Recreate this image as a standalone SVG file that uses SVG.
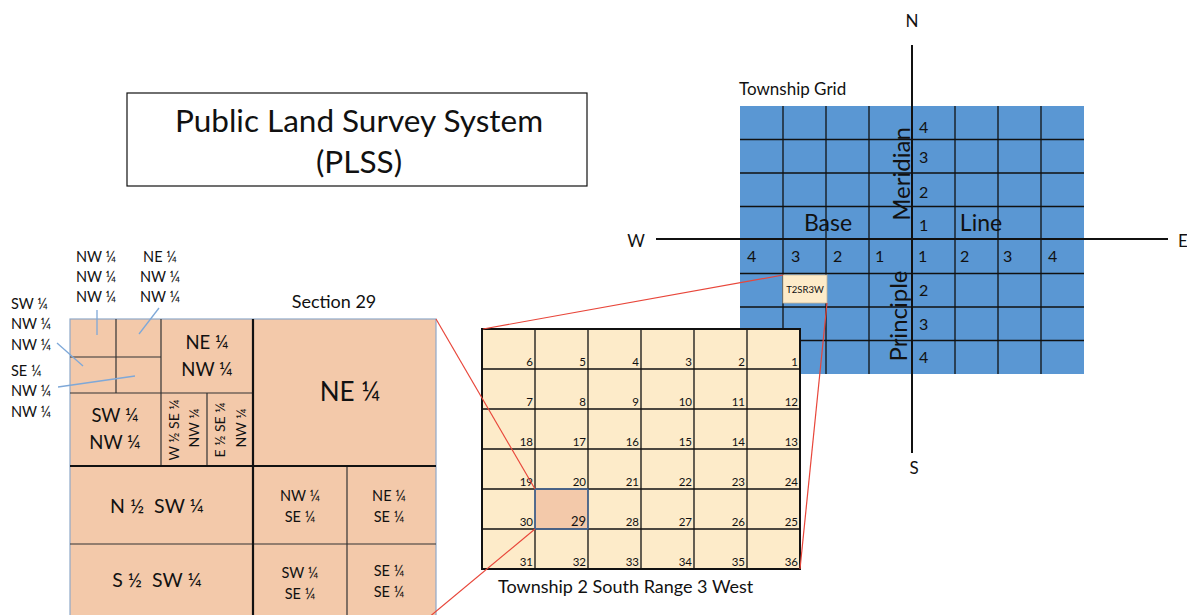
<svg xmlns="http://www.w3.org/2000/svg" width="1187" height="615" viewBox="0 0 1187 615">
<style>
text{font-family:Lato,"Open Sans","Liberation Sans",sans-serif;fill:#111;white-space:pre}
.sec{fill:#F3C9AA}
.thick{stroke:#111;stroke-width:2.2;fill:none}
.thin{stroke:#333;stroke-width:1.2;fill:none}
.m{text-anchor:middle}
.num{font-size:11.5px;text-anchor:end}
.bl{stroke:#111;stroke-width:1.3}
.bn{font-size:16px}
.red{stroke:#E8463A;stroke-width:1.2;fill:none}
.lead{stroke:#7EA8D8;stroke-width:1.3;fill:none}
</style>
<rect width="1187" height="615" fill="#fff"/>

<g id="title">
<rect x="127" y="93" width="460" height="93" fill="#fff" stroke="#111" stroke-width="1.2"/>
<text x="359" y="132" class="m" font-size="31.5">Public Land Survey System</text>
<text x="359" y="173" class="m" font-size="31.5">(PLSS)</text>
</g>

<g id="section29">
<text x="334" y="308" class="m" font-size="18">Section 29</text>
<rect x="70" y="319" width="366" height="310" class="sec" stroke="#8FA9C8" stroke-width="1.2"/>
<line x1="70" y1="357" x2="161" y2="357" class="thin"/>
<line x1="116" y1="319" x2="116" y2="393" class="thin"/>
<line x1="70" y1="393" x2="253" y2="393" class="thin"/>
<line x1="161" y1="319" x2="161" y2="466" class="thin" stroke-width="1.6"/>
<line x1="207" y1="393" x2="207" y2="466" class="thin"/>
<line x1="70" y1="544" x2="436" y2="544" class="thin"/>
<line x1="347" y1="466" x2="347" y2="615" class="thin"/>
<line x1="253" y1="319" x2="253" y2="615" class="thick"/>
<line x1="70" y1="466" x2="436" y2="466" class="thick"/>
<text x="350" y="401" class="m" font-size="26">NE ¼</text>
<text x="207" y="349" class="m" font-size="18.5">NE ¼</text>
<text x="207" y="376" class="m" font-size="18.5">NW ¼</text>
<text x="115" y="422" class="m" font-size="18.5">SW ¼</text>
<text x="115" y="449" class="m" font-size="18.5">NW ¼</text>
<text transform="translate(173,430) rotate(-90)" class="m" dominant-baseline="central" font-size="14">W ½ SE ¼</text>
<text transform="translate(193,428) rotate(-90)" class="m" dominant-baseline="central" font-size="14">NW ¼</text>
<text transform="translate(219,430) rotate(-90)" class="m" dominant-baseline="central" font-size="14">E ½ SE ¼</text>
<text transform="translate(240,428) rotate(-90)" class="m" dominant-baseline="central" font-size="14">NW ¼</text>
<text x="157" y="513" class="m" font-size="19.5">N ½  SW ¼</text>
<text x="157" y="587" class="m" font-size="19.5">S ½  SW ¼</text>
<text x="300" y="501" class="m" font-size="14.5">NW ¼</text>
<text x="300" y="522" class="m" font-size="14.5">SE ¼</text>
<text x="389" y="501" class="m" font-size="14.5">NE ¼</text>
<text x="389" y="522" class="m" font-size="14.5">SE ¼</text>
<text x="300" y="578" class="m" font-size="14.5">SW ¼</text>
<text x="300" y="599" class="m" font-size="14.5">SE ¼</text>
<text x="389" y="576" class="m" font-size="14.5">SE ¼</text>
<text x="389" y="597" class="m" font-size="14.5">SE ¼</text>
</g>

<g id="labels-nw">
<text x="96" y="262" class="m" font-size="14.5">NW ¼</text>
<text x="96" y="282" class="m" font-size="14.5">NW ¼</text>
<text x="96" y="302" class="m" font-size="14.5">NW ¼</text>
<text x="160" y="262" class="m" font-size="14.5">NE ¼</text>
<text x="160" y="282" class="m" font-size="14.5">NW ¼</text>
<text x="160" y="302" class="m" font-size="14.5">NW ¼</text>
<text x="11" y="309" font-size="14.5">SW ¼</text>
<text x="11" y="329" font-size="14.5">NW ¼</text>
<text x="11" y="350" font-size="14.5">NW ¼</text>
<text x="11" y="376" font-size="14.5">SE ¼</text>
<text x="11" y="396" font-size="14.5">NW ¼</text>
<text x="11" y="417" font-size="14.5">NW ¼</text>
</g>

<g id="township-grid">
<text x="739" y="95" font-size="17">Township Grid</text>
<rect x="740" y="106" width="344" height="268" fill="#5A97D3"/>
<g class="bl">
<line x1="783" y1="106" x2="783" y2="374"/><line x1="826" y1="106" x2="826" y2="374"/><line x1="869" y1="106" x2="869" y2="374"/><line x1="955" y1="106" x2="955" y2="374"/><line x1="998" y1="106" x2="998" y2="374"/><line x1="1041" y1="106" x2="1041" y2="374"/>
<line x1="740" y1="139.5" x2="1084" y2="139.5"/><line x1="740" y1="173" x2="1084" y2="173"/><line x1="740" y1="206.5" x2="1084" y2="206.5"/><line x1="740" y1="273.5" x2="1084" y2="273.5"/><line x1="740" y1="307" x2="1084" y2="307"/><line x1="740" y1="340.5" x2="1084" y2="340.5"/>
</g>
<g id="t2sr3w">
<rect x="783" y="275" width="44" height="28" fill="#FDEBC9" stroke="#C9B79A" stroke-width="0.8"/>
<text x="805" y="293" class="m" font-size="9.5">T2SR3W</text>
</g>
<text transform="translate(900,174) rotate(-90)" class="m" dominant-baseline="central" font-size="24">Meridian</text>
<text transform="translate(897,316) rotate(-90)" class="m" dominant-baseline="central" font-size="24">Principle</text>
<text x="828" y="231" class="m" font-size="23">Base</text>
<text x="981" y="231" class="m" font-size="23">Line</text>
<g class="bn">
<text x="747" y="262">4</text><text x="791" y="262">3</text><text x="833" y="262">2</text><text x="875" y="262">1</text>
<text x="918" y="262">1</text><text x="960" y="262">2</text><text x="1003" y="262">3</text><text x="1048" y="262">4</text>
<text x="919" y="133">4</text><text x="919" y="163">3</text><text x="919" y="198">2</text><text x="919" y="231">1</text>
<text x="919" y="296">2</text><text x="919" y="330">3</text><text x="919" y="363">4</text>
</g>
<line x1="912" y1="45" x2="912" y2="453" stroke="#111" stroke-width="2"/>
<line x1="656" y1="239" x2="1168" y2="239" stroke="#111" stroke-width="2"/>
<text x="912" y="27" class="m" font-size="17">N</text>
<text x="636" y="247" class="m" font-size="17">W</text>
<text x="1178" y="247" font-size="17">E</text>
<text x="914" y="474" class="m" font-size="17">S</text>
</g>

<g id="township">
<rect x="482" y="329" width="318" height="240" fill="#FDEBC9"/>
<rect x="535" y="489" width="53" height="40" fill="#F3C9AA"/>
<g class="bl">
<line x1="535" y1="329" x2="535" y2="569"/><line x1="588" y1="329" x2="588" y2="569"/><line x1="641" y1="329" x2="641" y2="569"/><line x1="694" y1="329" x2="694" y2="569"/><line x1="747" y1="329" x2="747" y2="569"/>
<line x1="482" y1="369" x2="800" y2="369"/><line x1="482" y1="409" x2="800" y2="409"/><line x1="482" y1="449" x2="800" y2="449"/><line x1="482" y1="489" x2="800" y2="489"/><line x1="482" y1="529" x2="800" y2="529"/>
</g>
<rect x="535" y="489" width="53" height="40" fill="none" stroke="#4A78B8" stroke-width="1.2"/>
<rect x="482" y="329" width="318" height="240" fill="none" stroke="#111" stroke-width="2"/>
<g class="num">
<text x="533" y="366">6</text><text x="586" y="366">5</text><text x="639" y="366">4</text><text x="692" y="366">3</text><text x="745" y="366">2</text><text x="798" y="366">1</text>
<text x="533" y="406">7</text><text x="586" y="406">8</text><text x="639" y="406">9</text><text x="692" y="406">10</text><text x="745" y="406">11</text><text x="798" y="406">12</text>
<text x="533" y="446">18</text><text x="586" y="446">17</text><text x="639" y="446">16</text><text x="692" y="446">15</text><text x="745" y="446">14</text><text x="798" y="446">13</text>
<text x="533" y="486">19</text><text x="586" y="486">20</text><text x="639" y="486">21</text><text x="692" y="486">22</text><text x="745" y="486">23</text><text x="798" y="486">24</text>
<text x="533" y="526">30</text><text x="586" y="526" font-size="13">29</text><text x="639" y="526">28</text><text x="692" y="526">27</text><text x="745" y="526">26</text><text x="798" y="526">25</text>
<text x="533" y="566">31</text><text x="586" y="566">32</text><text x="639" y="566">33</text><text x="692" y="566">34</text><text x="745" y="566">35</text><text x="798" y="566">36</text>
</g>
<text x="498" y="593" font-size="18">Township 2 South Range 3 West</text>
</g>

<g id="connectors">
<line x1="436" y1="319" x2="535" y2="489" class="red"/>
<line x1="535" y1="529" x2="428" y2="618" class="red"/>
<line x1="483" y1="329" x2="783" y2="275" class="red"/>
<line x1="800" y1="569" x2="827" y2="303" class="red"/>
<line x1="97" y1="310" x2="97" y2="335" class="lead"/>
<line x1="159" y1="308" x2="139" y2="334" class="lead"/>
<line x1="57" y1="343" x2="83" y2="366" class="lead"/>
<line x1="58" y1="387" x2="135" y2="376" class="lead"/>
</g>
</svg>
